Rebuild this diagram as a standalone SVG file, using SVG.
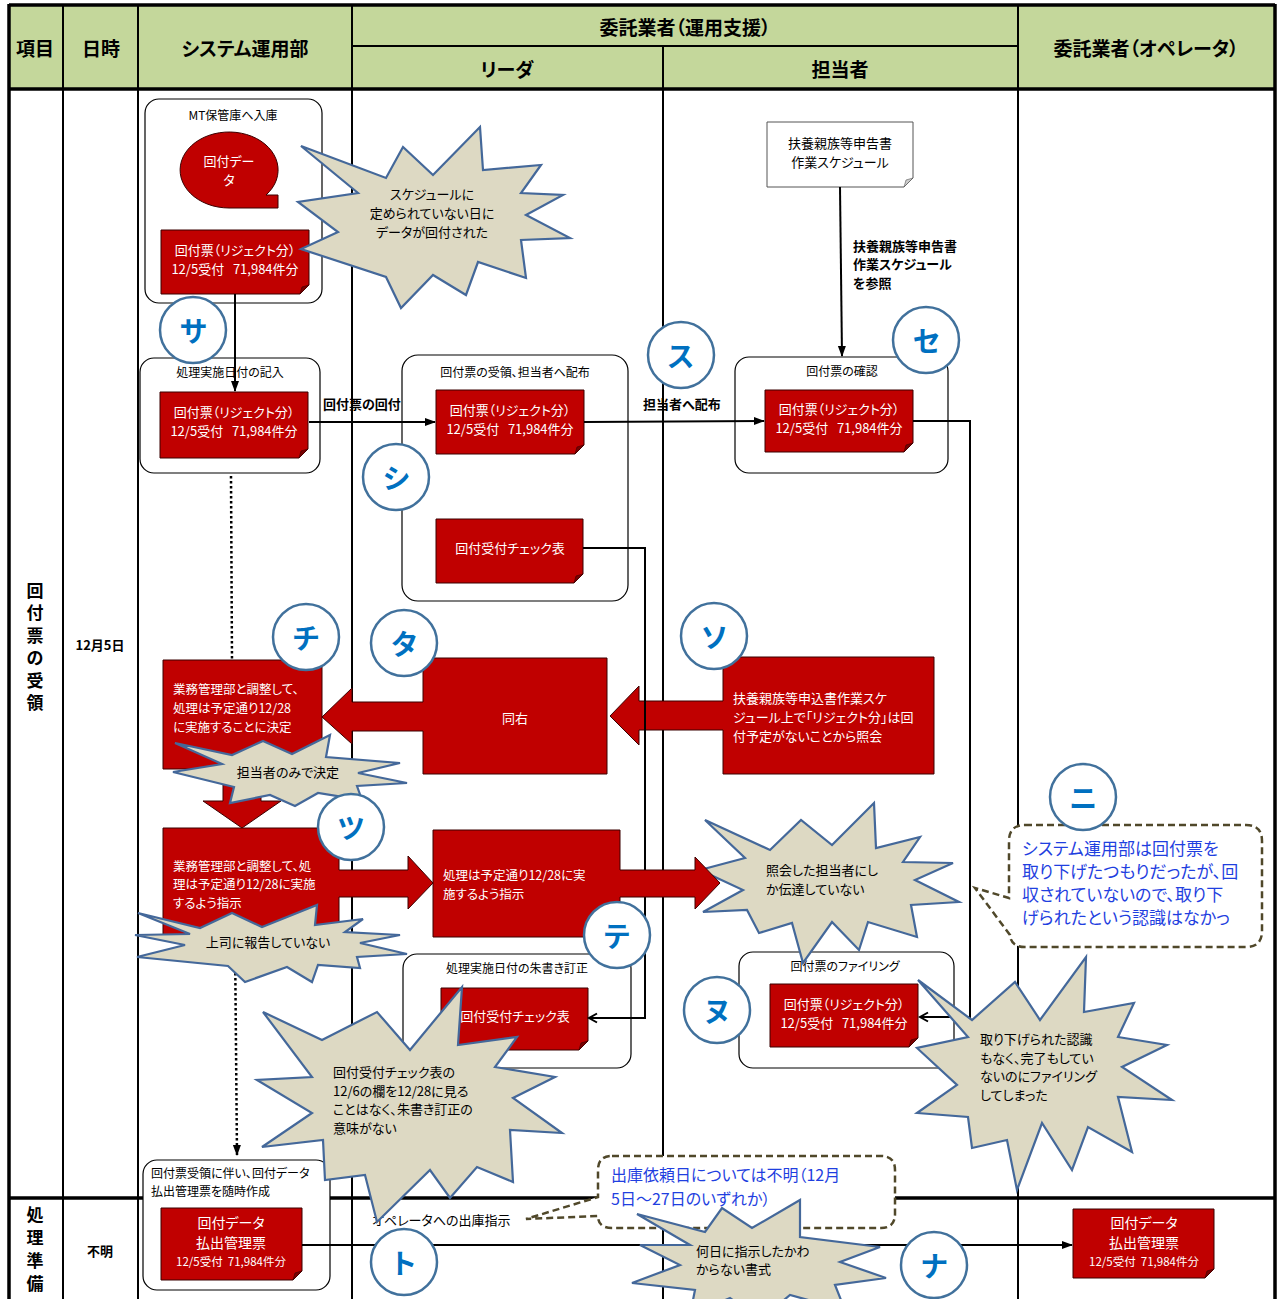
<svg xmlns="http://www.w3.org/2000/svg" width="1285" height="1299" viewBox="0 0 1285 1299">
<defs>
<style>
text{font-family:"Noto Sans CJK JP","Noto Sans CJK SC",sans-serif;font-feature-settings:"palt";dominant-baseline:central}
.hd{font-size:19px;font-weight:bold;fill:#000;text-anchor:middle}
.vt{font-size:17px;font-weight:bold;fill:#000;text-anchor:middle}
.dt{font-size:13px;font-weight:bold;fill:#000;text-anchor:middle}
.gl{stroke:#000;stroke-width:2;fill:none}
.gt{stroke:#000;stroke-width:3.5;fill:none}
.box{fill:#fff;stroke:#000;stroke-width:1.2}
.lbl{font-size:12px;fill:#000;text-anchor:middle}
.lbll{font-size:12px;fill:#000}
.red{fill:#c00000;stroke:#3a0000;stroke-width:1}
.wdoc{fill:#fff;stroke:#555;stroke-width:1}
.fold{fill:#7a0000;stroke:#3a0000;stroke-width:.6}
.wfold{fill:#ccc;stroke:#555;stroke-width:.6}
.wt{font-size:13px;fill:#fff;text-anchor:middle}
.wl{font-size:12.5px;fill:#fff}
.kt13{font-size:13px;fill:#000;text-anchor:middle}
.burst{fill:#ddd9c3;stroke:#44689a;stroke-width:2.2;stroke-linejoin:miter}
.bt{font-size:13px;fill:#000}
.btc{font-size:13px;fill:#000;text-anchor:middle}
.circ{fill:#fff;stroke:#41719c;stroke-width:2.5}
.kt{font-size:28px;font-weight:bold;fill:#0070c0;text-anchor:middle}
.ln{stroke:#000;stroke-width:2;fill:none}
.dot{stroke:#000;stroke-width:2.5;fill:none;stroke-dasharray:2.5 2.5}
.bl{font-size:13px;font-weight:bold;fill:#000}
.dash{fill:#fff;stroke:#50482a;stroke-width:2.5;stroke-dasharray:7 4}
.blue{font-size:17px;fill:#1f3fe0}
</style>
<marker id="ah" markerWidth="11" markerHeight="10" refX="10" refY="5" orient="auto" markerUnits="userSpaceOnUse"><path d="M0,1 L11,5 L0,9 Z" fill="#000"/></marker>
<marker id="oa" markerWidth="12" markerHeight="12" refX="10" refY="6" orient="auto" markerUnits="userSpaceOnUse"><path d="M2,1.5 L10,6 L2,10.5" fill="none" stroke="#000" stroke-width="2"/></marker>
</defs>

<g id="grid">
<rect x="0" y="0" width="1285" height="1299" fill="#fff"/>
<rect x="9" y="5" width="1266" height="84" fill="#c4d79b"/>
<line class="gl" x1="63" y1="5" x2="63" y2="1299"/>
<line class="gl" x1="138" y1="5" x2="138" y2="1299"/>
<line class="gl" x1="352" y1="5" x2="352" y2="1299"/>
<line class="gl" x1="1018" y1="5" x2="1018" y2="1299"/>
<line class="gl" x1="663" y1="46" x2="663" y2="1299"/>
<line class="gl" x1="352" y1="46" x2="1018" y2="46"/>
<line class="gt" x1="9" y1="5" x2="1275" y2="5"/>
<line class="gt" x1="9" y1="89" x2="1275" y2="89"/>
<line class="gt" x1="9" y1="1198" x2="1275" y2="1198"/>
<line class="gt" x1="9" y1="4" x2="9" y2="1299"/>
<line class="gt" x1="1275" y1="4" x2="1275" y2="1299"/>
<text class="hd" x="35" y="47">項目</text>
<text class="hd" x="101" y="47">日時</text>
<text class="hd" x="245" y="47">システム運用部</text>
<text class="hd" x="685" y="26">委託業者（運用支援）</text>
<text class="hd" x="507" y="68">リーダ</text>
<text class="hd" x="840" y="68">担当者</text>
<text class="hd" x="1146" y="47">委託業者（オペレータ）</text>
<text class="vt" x="35" y="589">回</text>
<text class="vt" x="35" y="611.5">付</text>
<text class="vt" x="35" y="634">票</text>
<text class="vt" x="35" y="656.5">の</text>
<text class="vt" x="35" y="679">受</text>
<text class="vt" x="35" y="701.5">領</text>
<text class="dt" x="100" y="644">12月5日</text>
<text class="vt" x="35" y="1213">処</text>
<text class="vt" x="35" y="1236">理</text>
<text class="vt" x="35" y="1259">準</text>
<text class="vt" x="35" y="1282">備</text>
<text class="dt" x="100" y="1250">不明</text>
</g>

<g id="connectors-back">
<line class="dot" x1="231" y1="476" x2="232" y2="662"/>
<line class="dot" x1="235" y1="938" x2="237" y2="1155" marker-end="url(#ah)"/>
</g>

<g id="n-mt">
<rect class="box" x="145" y="99" width="177" height="204" rx="14"/>
<text class="lbl" x="233" y="114">MT保管庫へ入庫</text>
<path class="red" d="M266,195 L278,195 L278,208 L229,208 A49,38 0 1 1 266,195 Z"/>
<text class="wt" x="229" y="160">回付デー</text>
<text class="wt" x="229" y="179">タ</text>
<path class="red" d="M161,230 H309 V285 L300,294 H161 Z"/><path class="fold" d="M300,294 L302,287 L309,285 Z"/>
<text class="wt" x="235" y="249">回付票（リジェクト分）</text>
<text class="wt" x="235" y="268" xml:space="preserve">12/5受付   71,984件分</text>
</g>

<g id="n-kinyu">
<rect class="box" x="140" y="358" width="180" height="115" rx="14"/>
<text class="lbl" x="230" y="371">処理実施日付の記入</text>
<path class="red" d="M160,392 H308 V449 L299,458 H160 Z"/><path class="fold" d="M299,458 L301,451 L308,449 Z"/>
<text class="wt" x="234" y="411">回付票（リジェクト分）</text>
<text class="wt" x="234" y="430" xml:space="preserve">12/5受付   71,984件分</text>
</g>

<g id="n-juryo">
<rect class="box" x="402" y="355" width="226" height="246" rx="16"/>
<text class="lbl" x="515" y="371">回付票の受領、担当者へ配布</text>
<path class="red" d="M436,390 H584 V445 L575,454 H436 Z"/><path class="fold" d="M575,454 L577,447 L584,445 Z"/>
<text class="wt" x="510" y="409">回付票（リジェクト分）</text>
<text class="wt" x="510" y="428" xml:space="preserve">12/5受付   71,984件分</text>
<path class="red" d="M436,519 H583 V574 L574,583 H436 Z"/><path class="fold" d="M574,583 L576,576 L583,574 Z"/>
<text class="wt" x="510" y="547">回付受付チェック表</text>
</g>

<g id="n-schedule">
<path class="wdoc" d="M767,122 H913 V178 L904,187 H767 Z"/><path class="wfold" d="M904,187 L906,180 L913,178 Z"/>
<text class="kt13" x="840" y="142">扶養親族等申告書</text>
<text class="kt13" x="840" y="161">作業スケジュール</text>
</g>

<g id="n-kakunin">
<rect class="box" x="735" y="357" width="213" height="116" rx="14"/>
<text class="lbl" x="842" y="370">回付票の確認</text>
<path class="red" d="M765,390 H913 V443 L904,452 H765 Z"/><path class="fold" d="M904,452 L906,445 L913,443 Z"/>
<text class="wt" x="839" y="408">回付票（リジェクト分）</text>
<text class="wt" x="839" y="427" xml:space="preserve">12/5受付   71,984件分</text>
</g>

<g id="n-shusho">
<rect class="box" x="403" y="954" width="228" height="114" rx="14"/>
<text class="lbl" x="517" y="967">処理実施日付の朱書き訂正</text>
<path class="red" d="M441,988 H588 V1041 L579,1050 H441 Z"/><path class="fold" d="M579,1050 L581,1043 L588,1041 Z"/>
<text class="wt" x="515" y="1015">回付受付チェック表</text>
</g>

<g id="n-filing">
<rect class="box" x="739" y="952" width="215" height="116" rx="14"/>
<text class="lbl" x="845" y="965">回付票のファイリング</text>
<path class="red" d="M770,984 H918 V1038 L909,1047 H770 Z"/><path class="fold" d="M909,1047 L911,1040 L918,1038 Z"/>
<text class="wt" x="844" y="1003">回付票（リジェクト分）</text>
<text class="wt" x="844" y="1022" xml:space="preserve">12/5受付   71,984件分</text>
</g>

<g id="n-haraidashi">
<rect class="box" x="143" y="1160" width="187" height="130" rx="14"/>
<text class="lbll" x="151" y="1172">回付票受領に伴い、回付データ</text>
<text class="lbll" x="151" y="1190">払出管理票を随時作成</text>
<path class="red" d="M161,1208 H302 V1271 L293,1280 H161 Z"/><path class="fold" d="M293,1280 L295,1273 L302,1271 Z"/>
<text class="wt" x="231" y="1222" style="font-size:14px">回付データ</text>
<text class="wt" x="231" y="1242" style="font-size:14px">払出管理票</text>
<text class="wt" x="231" y="1261" style="font-size:11.5px" xml:space="preserve">12/5受付  71,984件分</text>
</g>

<g id="n-operator">
<path class="red" d="M1073,1209 H1214 V1269 L1205,1278 H1073 Z"/><path class="fold" d="M1205,1278 L1207,1271 L1214,1269 Z"/>
<text class="wt" x="1144" y="1222" style="font-size:14px">回付データ</text>
<text class="wt" x="1144" y="1242" style="font-size:14px">払出管理票</text>
<text class="wt" x="1144" y="1261" style="font-size:11.5px" xml:space="preserve">12/5受付  71,984件分</text>
</g>

<g id="n-kettei">
<path class="red" d="M163,660 H322 V769 H261 V801 H281 L242,828 L203,801 H223 V769 H163 Z"/>
<text class="wl" x="173" y="688">業務管理部と調整して、</text>
<text class="wl" x="173" y="707">処理は予定通り12/28</text>
<text class="wl" x="173" y="726">に実施することに決定</text>
</g>

<g id="n-doumigi">
<path class="red" d="M423,658 H607 V774 H423 V731 H352 V744 L322,717 L352,688 V702 H423 Z"/>
<text class="wt" x="515" y="717">同右</text>
</g>

<g id="n-shokai">
<path class="red" d="M723,657 H934 V774 H723 V730 H639 V745 L610,716 L639,686 V701 H723 Z"/>
<text class="wl" x="733" y="697" style="font-size:13px">扶養親族等申込書作業スケ</text>
<text class="wl" x="733" y="716" style="font-size:13px">ジュール上で「リジェクト分」は回</text>
<text class="wl" x="733" y="735" style="font-size:13px">付予定がないことから照会</text>
</g>

<g id="n-shiji1">
<path class="red" d="M163,828 H339 V870 H408 V856 L433,883 L408,909 V897 H339 V938 H163 Z"/>
<text class="wl" x="173" y="865">業務管理部と調整して、処</text>
<text class="wl" x="173" y="883">理は予定通り12/28に実施</text>
<text class="wl" x="173" y="902">するよう指示</text>
</g>

<g id="connectors">
<line class="ln" x1="235" y1="294" x2="235" y2="391" marker-end="url(#ah)"/>
<line class="ln" x1="309" y1="422" x2="435" y2="422" marker-end="url(#ah)"/>
<text class="bl" x="323" y="403">回付票の回付</text>
<line class="ln" x1="584" y1="422" x2="764" y2="421" marker-end="url(#ah)"/>
<text class="bl" x="643" y="403">担当者へ配布</text>
<line class="ln" x1="840" y1="187" x2="842" y2="356" marker-end="url(#ah)"/>
<text class="bl" x="853" y="245">扶養親族等申告書</text>
<text class="bl" x="853" y="263">作業スケジュール</text>
<text class="bl" x="853" y="282">を参照</text>
<polyline class="ln" points="913,421 970,421 970,1017 920,1017" marker-end="url(#oa)"/>
<polyline class="ln" points="583,548 645,548 645,1018 589,1018" marker-end="url(#oa)"/>
<line class="ln" x1="302" y1="1245" x2="1072" y2="1245" marker-end="url(#ah)"/>
<path class="dash" d="M1025,825 H1246 Q1262,825 1262,841 V931 Q1262,947 1246,947 H1025 Q1011,947 1010,935 L975,888 L1009,898 V841 Q1009,825 1025,825 Z"/>
<text class="blue" x="1022" y="847">システム運用部は回付票を</text>
<text class="blue" x="1022" y="870">取り下げたつもりだったが、回</text>
<text class="blue" x="1022" y="893">収されていないので、取り下</text>
<text class="blue" x="1022" y="916">げられたという認識はなかっ</text>
<text class="bt" x="372" y="1219">オペレータへの出庫指示</text>
<path class="dash" d="M612,1156 H881 Q895,1156 895,1170 V1214 Q895,1228 881,1228 H612 Q598,1228 598,1216 L526,1219 L598,1197 V1170 Q598,1156 612,1156 Z"/>
<text class="blue" x="611" y="1174" style="font-size:16px">出庫依頼日については不明（12月</text>
<text class="blue" x="611" y="1198" style="font-size:16px">5日～27日のいずれか）</text>
</g>

<g id="b-schedule">
<polygon class="burst" points="301,146 386,178 403,147 433,175 480,127 483,170 541,165 521,193 563,195 526,215 570,238 521,240 526,278 478,262 466,295 433,275 401,308 386,277 301,249 338,232 298,202 358,193"/>
<text class="btc" x="432" y="193">スケジュールに</text>
<text class="btc" x="432" y="212">定められていない日に</text>
<text class="btc" x="432" y="231">データが回付された</text>
</g>

<g id="b-tantou">
<polygon class="burst" points="175,743 232,755 263,741 292,754 330,735 326,757 400,763 358,773 407,783 357,786 362,800 318,793 295,806 270,795 230,803 234,787 173,772 222,764"/>
<text class="btc" x="288" y="771">担当者のみで決定</text>
</g>

<g id="b-joshi">
<polygon class="burst" points="138,913 200,928 232,913 262,927 317,905 315,925 363,919 345,932 400,935 360,943 407,954 357,957 360,968 318,965 312,982 287,967 245,982 228,966 137,957 185,945 135,935 190,934"/>
<text class="btc" x="268" y="941">上司に報告していない</text>
</g>

<g id="b-check">
<polygon class="burst" points="263,1012 322,1040 377,1012 410,1050 462,987 458,1045 517,1037 495,1067 555,1077 513,1098 562,1133 510,1130 513,1182 477,1167 450,1198 430,1170 377,1222 365,1175 325,1180 323,1140 262,1147 312,1113 257,1080 312,1077"/>
<text class="bt" x="333" y="1071">回付受付チェック表の</text>
<text class="bt" x="333" y="1090">12/6の欄を12/28に見る</text>
<text class="bt" x="333" y="1108">ことはなく、朱書き訂正の</text>
<text class="bt" x="333" y="1127">意味がない</text>
</g>

<g id="b-dentatsu">
<polygon class="burst" points="705,820 770,850 801,820 832,845 874,803 876,848 920,837 903,862 953,863 915,880 959,902 911,905 917,937 868,922 859,950 832,922 803,963 792,923 759,933 747,910 703,912 743,890 700,870 745,858"/>
<text class="bt" x="766" y="869">照会した担当者にし</text>
<text class="bt" x="766" y="888">か伝達していない</text>
</g>

<g id="n-shiji2">
<path class="red" d="M433,830 H620 V870 H695 V857 L720,883 L695,909 V897 H620 V937 H433 Z"/>
<text class="wl" x="443" y="874">処理は予定通り12/28に実</text>
<text class="wl" x="443" y="893">施するよう指示</text>
</g>

<g id="b-filing">
<polygon class="burst" points="918,980 972,1020 1015,982 1040,1020 1086,957 1084,1012 1134,1003 1118,1037 1167,1045 1122,1067 1172,1100 1118,1097 1132,1152 1088,1127 1072,1170 1042,1123 1017,1190 1007,1140 972,1148 968,1117 917,1113 957,1085 917,1048 968,1037"/>
<text class="bt" x="980" y="1038">取り下げられた認識</text>
<text class="bt" x="980" y="1057">もなく、完了もしてい</text>
<text class="bt" x="980" y="1075">ないのにファイリング</text>
<text class="bt" x="980" y="1094">してしまった</text>
</g>

<g id="b-shoshiki">
<polygon class="burst" points="637,1214 705,1232 722,1208 752,1228 800,1200 800,1237 880,1247 840,1262 886,1278 835,1285 845,1310 790,1295 760,1320 730,1298 690,1315 695,1290 632,1283 680,1265 640,1245 690,1245"/>
<text class="bt" x="696" y="1250">何日に指示したかわ</text>
<text class="bt" x="696" y="1268">からない書式</text>
</g>

<g id="markers">
<circle class="circ" cx="193" cy="330" r="33"/><text class="kt" x="193" y="330">サ</text>
<circle class="circ" cx="396" cy="477" r="33"/><text class="kt" x="396" y="477">シ</text>
<circle class="circ" cx="681" cy="355" r="33"/><text class="kt" x="681" y="355">ス</text>
<circle class="circ" cx="926" cy="340" r="33"/><text class="kt" x="926" y="340">セ</text>
<circle class="circ" cx="714" cy="636" r="33"/><text class="kt" x="714" y="636">ソ</text>
<circle class="circ" cx="404" cy="643" r="33"/><text class="kt" x="404" y="643">タ</text>
<circle class="circ" cx="306" cy="637" r="33"/><text class="kt" x="306" y="637">チ</text>
<circle class="circ" cx="351" cy="827" r="33"/><text class="kt" x="351" y="827">ツ</text>
<circle class="circ" cx="617" cy="935" r="33"/><text class="kt" x="617" y="935">テ</text>
<circle class="circ" cx="404" cy="1262" r="33"/><text class="kt" x="404" y="1262">ト</text>
<circle class="circ" cx="934" cy="1265" r="33"/><text class="kt" x="934" y="1265">ナ</text>
<circle class="circ" cx="1083" cy="797" r="33"/><text class="kt" x="1083" y="797">ニ</text>
<circle class="circ" cx="717" cy="1010" r="33"/><text class="kt" x="717" y="1010">ヌ</text>
</g>
</svg>
